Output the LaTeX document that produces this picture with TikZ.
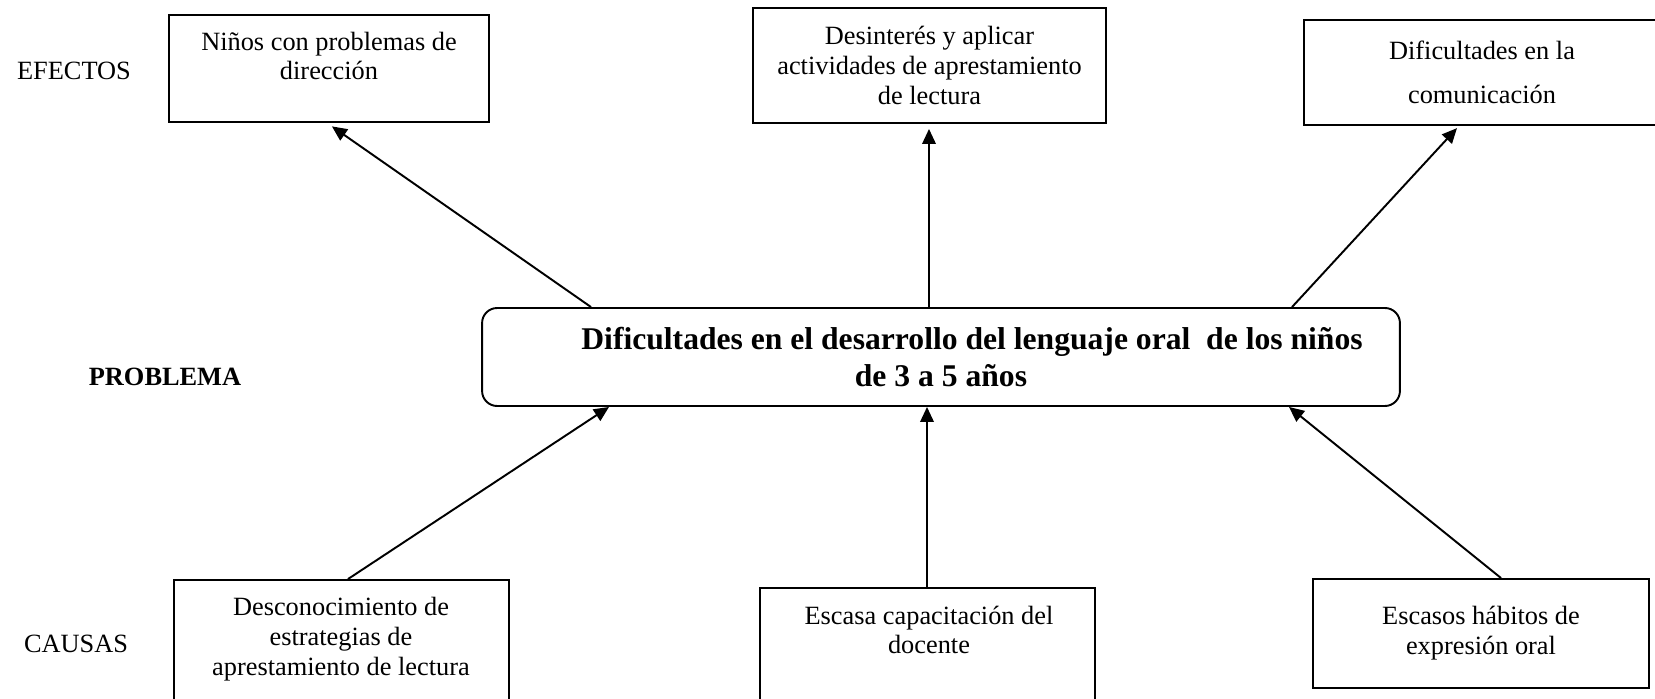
\documentclass[tikz,border=0pt]{standalone}
\usepackage{fontspec}
\setmainfont{Liberation Serif}
\usepackage{tikz}
\usetikzlibrary{positioning,arrows.meta}

\tikzset{
    box/.style={draw, line width=1.1pt, rectangle, inner sep=0pt},
    txt/.style={align=center, inner sep=0pt, font=\fontsize{15}{17}\selectfont},
    side/.style={inner sep=0pt, font=\fontsize{15}{17}\selectfont},
    arr/.style={line width=1.1pt, -{Triangle[length=0.3cm,width=0.27cm]}},
}

\begin{document}
\begin{tikzpicture}[x=0.02cm, y=-0.02cm]
    \useasboundingbox (0,0) rectangle (1655,699);
    % Row labels
    \node[side] (lefe) at (74,71) {EFECTOS};
    \node[side, font=\fontsize{15}{17}\selectfont\bfseries] (lpro) at (165,377) {PROBLEMA};
    \node[side] (lcau) at (76,644) {CAUSAS};
    % Effects
    \node[box, minimum width=6.4cm, minimum height=2.14cm] (e1) at (329,68.5) {};
    \node[txt] (e1t) at (329,56) {Niños con problemas de\\dirección};
    \node[box, txt, minimum width=7.06cm, minimum height=2.3cm] (e2) at (929.5,65.5)
        {Desinterés y aplicar\\actividades de aprestamiento\\de lectura};
    \node[box, txt, minimum width=7.12cm, minimum height=2.1cm] (e3) at (1482,72.5)
        {Dificultades en la\\[8pt]comunicación};
    % Problem
    \node[box, rounded corners=0.3cm, align=center, minimum width=18.36cm, minimum height=1.96cm,
          font=\fontsize{18}{21}\selectfont\bfseries] (prob) at (941,357)
        {\hspace*{1.24cm}Dificultades en el desarrollo del lenguaje oral\ \ de los niños\\de 3 a 5 años};
    % Causes
    \node[box, minimum width=6.7cm, minimum height=2.64cm] (c1) at (341.5,646) {};
    \node[txt] (c1t) at (341,639) {Desconocimiento de\\estrategias de\\aprestamiento de lectura};
    \node[box, minimum width=6.7cm, minimum height=2.48cm] (c2) at (927.5,650) {};
    \node[txt] (c2t) at (929,630) {Escasa capacitación del\\docente};
    \node[box, txt, minimum width=6.72cm, minimum height=2.18cm] (c3) at (1481,633.5)
        {Escasos hábitos de\\expresión oral};
    % Arrows to effects
    \draw[arr, shorten >=0.12cm] (prob.north -| 591,0) -- (e1.south -| 327,0);
    \draw[arr, shorten >=0.1cm] (prob.north -| 929,0) -- (e2.south -| 929,0);
    \draw[arr, shorten >=0.06cm] (prob.north -| 1292,0) -- (e3.south -| 1459,0);
    % Arrows from causes
    \draw[arr] (c1.north -| 348,0) -- (prob.south -| 609,0);
    \draw[arr] (c2.north -| 927,0) -- (prob.south -| 927,0);
    \draw[arr] (c3.north -| 1501,0) -- (prob.south -| 1289,0);
\end{tikzpicture}
\end{document}
